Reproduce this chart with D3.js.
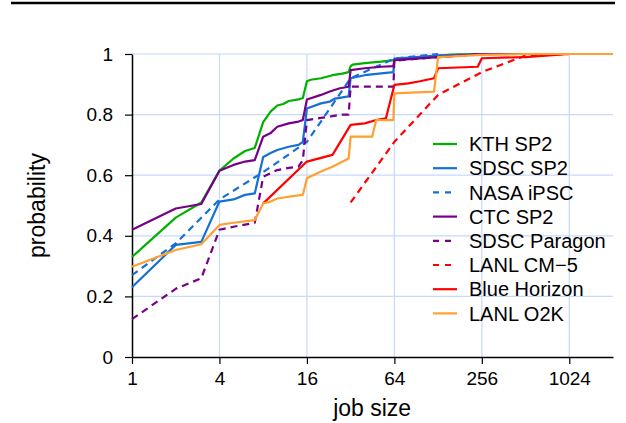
<!DOCTYPE html>
<html>
<head>
<meta charset="utf-8">
<script src="https://cdn.jsdelivr.net/npm/d3@7"></script>
<style>
    body { margin: 0; background: #fff; }
    text { font-family: "Liberation Sans", Arial, sans-serif; fill: #000; }
</style>
</head>
<body>
<div id="chartDiv"></div>
<script>

// cumulative distribution of job sizes, [job size, probability]
var kthSP2 = [[1, 0.33], [2, 0.46], [3, 0.51], [4, 0.615], [5, 0.655], [6, 0.68], [7, 0.69], [8, 0.775],
    [9, 0.81], [10, 0.83], [11, 0.835], [12, 0.845], [14, 0.85], [15, 0.855], [16, 0.91], [17, 0.915],
    [20, 0.92], [24, 0.93], [28, 0.935], [31, 0.94], [32, 0.96], [33, 0.965], [40, 0.97], [52, 0.975],
    [64, 0.98], [80, 0.985], [100, 0.99], [128, 0.995], [160, 0.998], [256, 1], [2048, 1]];

var sdscSP2 = [[1, 0.23], [2, 0.37], [3, 0.38], [4, 0.513], [5, 0.52], [6, 0.535], [7, 0.54], [8, 0.66],
    [9, 0.673], [10, 0.683], [12, 0.694], [14, 0.7], [15, 0.71], [16, 0.82], [20, 0.837], [23, 0.843],
    [25, 0.853], [31, 0.86], [32, 0.92], [40, 0.93], [52, 0.936], [63, 0.94], [64, 0.985], [128, 0.995],
    [256, 1], [2048, 1]];

var nasaIPSC = [[1, 0.27], [2, 0.375], [4, 0.52], [8, 0.61], [16, 0.71], [32, 0.92], [64, 0.985], [128, 1]];

var ctcSP2 = [[1, 0.42], [2, 0.49], [3, 0.505], [4, 0.615], [5, 0.634], [6, 0.645], [7, 0.65], [8, 0.727],
    [9, 0.739], [10, 0.76], [12, 0.771], [14, 0.777], [15, 0.782], [16, 0.85], [20, 0.865], [23, 0.876],
    [27, 0.887], [31, 0.892], [32, 0.947], [40, 0.953], [52, 0.958], [63, 0.96], [64, 0.98], [128, 0.99],
    [256, 1], [2048, 1]];

var sdscParagon = [[1, 0.125], [2, 0.225], [3, 0.26], [4, 0.42], [5, 0.43], [7, 0.443], [8, 0.595],
    [10, 0.617], [12, 0.624], [14, 0.628], [15, 0.65], [16, 0.782], [20, 0.789], [24, 0.795], [28, 0.8],
    [31, 0.8], [32, 0.892], [63, 0.892], [64, 0.978], [128, 0.99], [256, 1]];

var lanlCM5 = [[32, 0.51], [64, 0.71], [128, 0.865], [256, 0.94], [512, 0.995], [1024, 1]];

var blueHorizon = [[8, 0.507], [16, 0.645], [24, 0.667], [32, 0.766], [40, 0.771], [48, 0.782], [56, 0.788],
    [64, 0.898], [80, 0.903], [96, 0.91], [120, 0.92], [128, 0.953], [240, 0.958], [256, 0.986],
    [512, 0.99], [1024, 1], [2048, 1]];

var lanlO2K = [[1, 0.298], [2, 0.353], [3, 0.372], [4, 0.436], [5, 0.443], [7, 0.452], [8, 0.507],
    [9, 0.513], [10, 0.523], [12, 0.529], [15, 0.535], [16, 0.59], [20, 0.612], [24, 0.628], [31, 0.655],
    [32, 0.727], [45, 0.727], [48, 0.782], [63, 0.782], [64, 0.87], [120, 0.876], [128, 0.99],
    [256, 0.997], [512, 1], [2048, 1]];

var xTicks = [1, 4, 16, 64, 256, 1024];
var yTicks = [0, 0.2, 0.4, 0.6, 0.8, 1];

var series = [
    {name: "KTH SP2", data: kthSP2, color: "#00b000", dashed: false},
    {name: "SDSC SP2", data: sdscSP2, color: "#1570d6", dashed: false},
    {name: "NASA iPSC", data: nasaIPSC, color: "#1570d6", dashed: true},
    {name: "CTC SP2", data: ctcSP2, color: "#760088", dashed: false},
    {name: "SDSC Paragon", data: sdscParagon, color: "#760088", dashed: true},
    {name: "LANL CM\u22125", data: lanlCM5, color: "#ff0000", dashed: true},
    {name: "Blue Horizon", data: blueHorizon, color: "#ff0000", dashed: false},
    {name: "LANL O2K", data: lanlO2K, color: "#ffa030", dashed: false}
];

var margin = {top: 54, right: 13, bottom: 66, left: 132},
    width = 626 - margin.left - margin.right,
    height = 423 - margin.top - margin.bottom;

var root = d3.select("#chartDiv").append("svg")
    .attr("width", 626)
    .attr("height", 423);

// rule across the top of the page
root.append("line")
    .attr("x1", 11).attr("x2", 615)
    .attr("y1", 3).attr("y2", 3)
    .style("stroke", "#000")
    .style("stroke-width", 2.5);

var svg = root.append("g")
    .attr("transform", "translate(" + margin.left + "," + margin.top + ")");

var x = d3.scaleLog().base(2)
    .domain([1, 2048])
    .range([0, width]);

var y = d3.scaleLinear()
    .domain([0, 1])
    .range([height, 0]);

// grid
svg.append("g").attr("class", "grid")
    .selectAll("line.h")
    .data(yTicks.slice(1))
    .enter().append("line")
    .attr("x1", 0).attr("x2", width)
    .attr("y1", function (d) { return y(d); })
    .attr("y2", function (d) { return y(d); })
    .style("stroke", "#c6dafc")
    .style("stroke-width", 1.2);

svg.append("g").attr("class", "grid")
    .selectAll("line.v")
    .data(xTicks.slice(1))
    .enter().append("line")
    .attr("y1", 0).attr("y2", height)
    .attr("x1", function (d) { return x(d); })
    .attr("x2", function (d) { return x(d); })
    .style("stroke", "#c6dafc")
    .style("stroke-width", 1.2);

var xAxis = d3.axisBottom(x)
    .tickValues(xTicks)
    .tickFormat(d3.format("d"))
    .tickSizeInner(7)
    .tickSizeOuter(0)
    .tickPadding(8);

var yAxis = d3.axisLeft(y)
    .tickValues(yTicks)
    .tickFormat(function (d) { return String(+d.toFixed(1)); })
    .tickSizeInner(7)
    .tickSizeOuter(0)
    .tickPadding(12);

var xElement = svg.append("g")
    .attr("class", "x axis")
    .attr("transform", "translate(0," + height + ")")
    .call(xAxis);

var yElement = svg.append("g")
    .attr("class", "y axis")
    .call(yAxis);

svg.selectAll(".axis path").style("stroke", "#000").style("stroke-width", 1.5);
svg.selectAll(".axis line").style("stroke", "#000").style("stroke-width", 1.2);
svg.selectAll(".axis text")
    .style("font-size", "19px")
    .style("font-family", "'Liberation Sans', Arial, sans-serif")
    .style("fill", "#000");

var line = d3.line()
    .x(function (d) { return x(d[0]); })
    .y(function (d) { return y(d[1]); });

svg.selectAll(".curve")
    .data(series)
    .enter().append("path")
    .attr("class", "curve")
    .attr("d", function (d) { return line(d.data); })
    .style("fill", "none")
    .style("stroke", function (d) { return d.color; })
    .style("stroke-width", 2.2)
    .style("stroke-linejoin", "round")
    .style("stroke-dasharray", function (d) { return d.dashed ? "7,5" : null; });

// legend
var legend = root.append("g")
    .attr("transform", "translate(433,144)");

var item = legend.selectAll(".item")
    .data(series)
    .enter().append("g")
    .attr("class", "item")
    .attr("transform", function (d, i) { return "translate(0," + (i * 24.2) + ")"; });

item.append("line")
    .attr("x1", 0).attr("x2", 24)
    .attr("y1", 0).attr("y2", 0)
    .style("stroke", function (d) { return d.color; })
    .style("stroke-width", 2.2)
    .style("stroke-dasharray", function (d) { return d.dashed ? "6,6" : null; });

item.append("text")
    .attr("x", 36)
    .attr("y", 0)
    .attr("dy", "0.36em")
    .style("font-size", "20px")
    .text(function (d) { return d.name; });

// axis titles
root.append("text")
    .attr("x", margin.left + x(45))
    .attr("y", 416)
    .style("font-size", "23px")
    .style("text-anchor", "middle")
    .text("job size");

root.append("text")
    .attr("transform", "translate(45," + (margin.top + height / 2) + ") rotate(-90)")
    .style("font-size", "23px")
    .style("text-anchor", "middle")
    .text("probability");

</script>
</body>
</html>
